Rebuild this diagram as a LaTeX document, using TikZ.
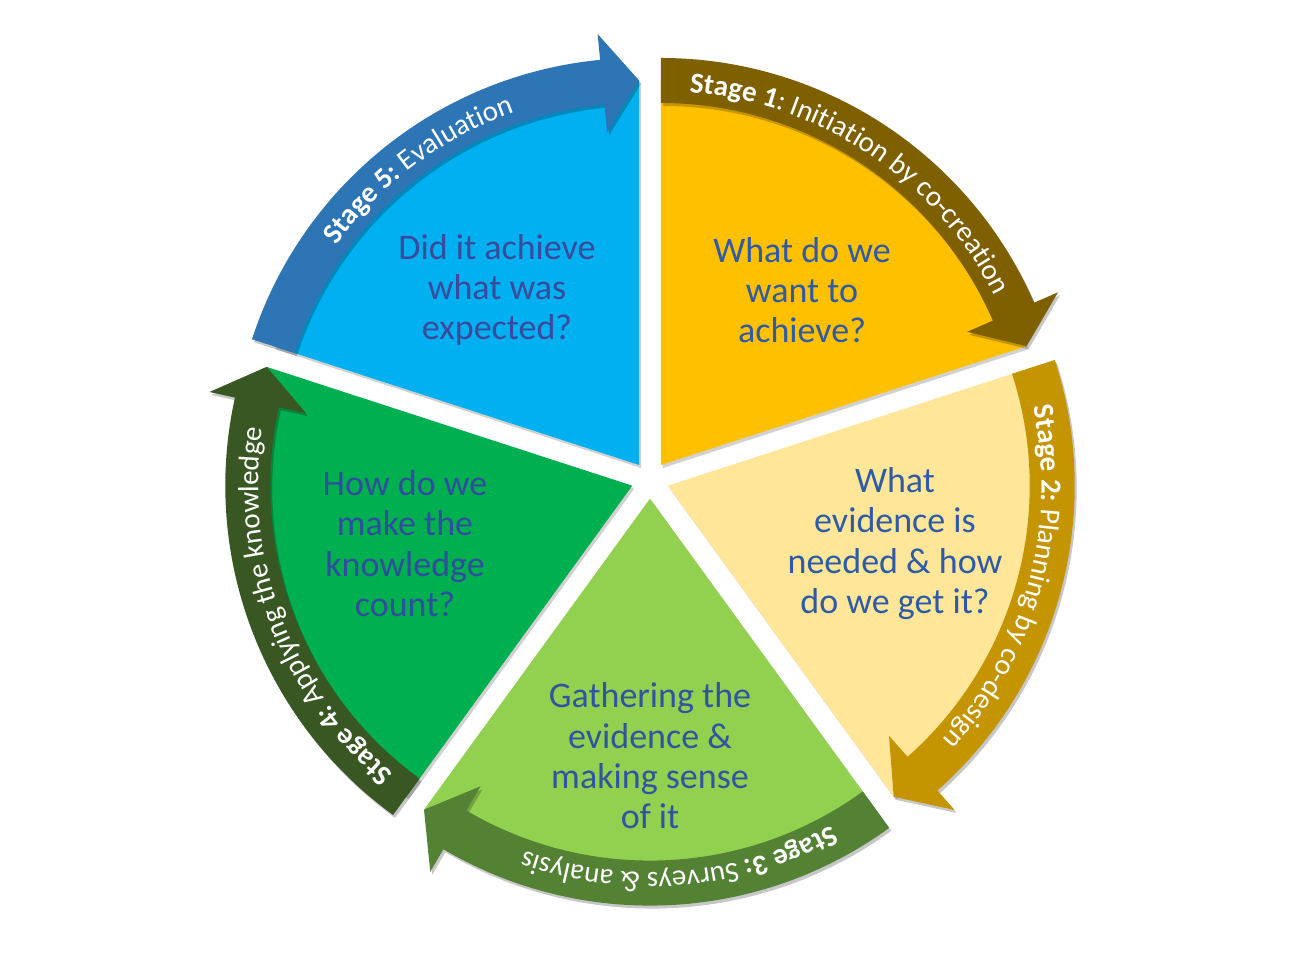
\documentclass[tikz,border=0pt]{standalone}
\usepackage{fontspec}
\setmainfont{Carlito}
\usetikzlibrary{decorations.text}
\definecolor{wYellow}{HTML}{FFC000}
\definecolor{wLight}{HTML}{FFE699}
\definecolor{wLime}{HTML}{92D050}
\definecolor{wGreen}{HTML}{00B050}
\definecolor{wBlue}{HTML}{00B0F0}
\definecolor{bBrown}{HTML}{7F6000}
\definecolor{bGold}{HTML}{C49500}
\definecolor{bGreen}{HTML}{548235}
\definecolor{bDark}{HTML}{385723}
\definecolor{bBlue}{HTML}{2E75B6}
\definecolor{qBlueA}{HTML}{2E5AA6}
\definecolor{qBlueB}{HTML}{3A4A9C}
\definecolor{qBlueC}{HTML}{2F4E9E}
\definecolor{qBlueD}{HTML}{2F55A0}
\newcommand\bandfont{\fontsize{29}{31}\selectfont}
\newcommand\wheelstage[6]{%
  \begin{scope}[shift={(#1)}]
    \pgfmathsetmacro\aend{#2-72}
    \pgfmathsetmacro\abase{#2-66.5}
    \fill[black, opacity=0.18, shift={(2,-3)}] (0,0) -- (#2:384) arc[start angle=#2, end angle=\aend, radius=384] -- cycle;
    \fill[#3] (0,0) -- (#2:384) arc[start angle=#2, end angle=\aend, radius=384] -- cycle;
    \fill[black, opacity=0.22, shift={(2,-3)}] (#2:362) -- (#2:407)
      arc[start angle=#2, end angle=\abase, radius=407]
      -- (\abase:433) -- (\aend:384.5) -- (\abase:334) -- (\abase:362)
      arc[start angle=\abase, end angle=#2, radius=362] -- cycle;
    \fill[#4] (#2:362) -- (#2:407)
      arc[start angle=#2, end angle=\abase, radius=407]
      -- (\abase:433) -- (\aend:384.5) -- (\abase:334) -- (\abase:362)
      arc[start angle=\abase, end angle=#2, radius=362] -- cycle;
    \path[decorate, decoration={text along path, text color=white, text align=center, text={#5}}]
      (#2+#6:374) arc[start angle=#2+#6, end angle=\abase+#6, radius=374];
  \end{scope}}
\tikzset{qtext/.style={align=center, font=\fontsize{36}{40.3}\selectfont, inner sep=0pt}}
\begin{document}
\begin{tikzpicture}[x=1pt,y=1pt]
  \useasboundingbox (0,0) rectangle (1300,965);
  \fill[white] (0,0) rectangle (1300,965);
  \coordinate (c1) at (660.9,500.0);
  \coordinate (c2) at (667.7,479.3);
  \coordinate (c3) at (650.0,466.4);
  \coordinate (c4) at (632.3,479.3);
  \coordinate (c5) at (639.1,500.0);
  \wheelstage{c1}{90}{wYellow}{bBrown}{|\bandfont\bfseries|Stage 1|\bandfont\mdseries|: Initiation by co-creation}{-0.5}
  \wheelstage{c2}{18}{wLight}{bGold}{|\bandfont\bfseries|Stage 2:|\bandfont\mdseries| Planning by co-design}{0}
  \wheelstage{c3}{-54}{wLime}{bGreen}{|\bandfont\bfseries|Stage 3:|\bandfont\mdseries| Surveys {\&} analysis}{2}
  \wheelstage{c4}{234}{wGreen}{bDark}{|\bandfont\bfseries|Stage 4:|\bandfont\mdseries| Applying the knowledge}{0}
  \wheelstage{c5}{162}{wBlue}{bBlue}{|\bandfont\bfseries|Stage 5:|\bandfont\mdseries| Evaluation}{-2}
  \node[qtext, text=qBlueA] (q1) at (802,675) {What do we\\want to\\achieve?};
  \node[qtext, text=qBlueA] (q2) at (895,421.5) {What\\evidence is\\needed \& how\\do we get it?};
  \node[qtext, text=qBlueD] (q3) at (650,209) {Gathering the\\evidence \&\\making sense\\of it};
  \node[qtext, text=qBlueC] (q4) at (405,421.5) {How do we\\make the\\knowledge\\count?};
  \node[qtext, text=qBlueB] (q5) at (497,675) {Did it achieve\\what was\\expected?};
\end{tikzpicture}
\end{document}
